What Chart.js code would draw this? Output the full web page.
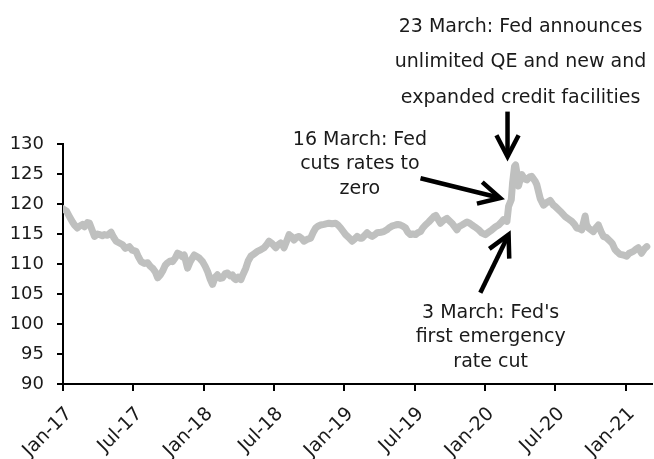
<!DOCTYPE html>
<html>
<head>
<meta charset="utf-8">
<script src="https://cdn.jsdelivr.net/npm/chart.js@4/dist/chart.umd.min.js"></script>
<style>
  html, body { margin: 0; padding: 0; background: #fff; }
</style>
</head>
<body>
<canvas id="dollar-chart" width="654" height="459"></canvas>
<script>
// months since Jan 2017 and index level
var months = [
  0,0.30,0.55,0.81,0.98,1.23,1.40,1.66,1.83,2.09,
  2.26,2.51,2.68,2.94,3.11,3.36,3.53,3.79,4.10,4.30,
  4.53,4.81,5.09,5.32,5.66,5.91,6.23,6.43,6.66,6.94,
  7.22,7.45,7.64,7.87,8.07,8.30,8.49,8.72,8.92,9.15,
  9.34,9.57,9.77,10.00,10.17,10.34,10.62,10.85,11.19,11.45,
  11.62,11.90,12.13,12.32,12.55,12.75,12.98,13.17,13.40,13.60,
  13.83,14.03,14.26,14.45,14.60,14.74,14.94,15.17,15.36,15.59,
  15.79,16.02,16.30,16.58,16.89,17.15,17.40,17.57,17.83,18.14,
  18.34,18.57,18.77,18.85,19.11,19.28,19.53,19.70,19.96,20.13,
  20.38,20.55,20.81,21.12,21.32,21.55,21.74,21.97,22.26,22.68,
  22.94,23.25,23.45,23.68,23.87,24.10,24.38,24.66,24.89,25.09,
  25.32,25.51,25.74,25.94,26.17,26.37,26.60,26.79,27.11,27.36,
  27.62,27.79,28.04,28.36,28.55,28.78,28.98,29.21,29.40,29.63,
  29.83,30.06,30.26,30.49,30.68,30.91,31.19,31.62,31.79,32.19,
  32.47,32.75,33.17,33.60,33.74,34.03,34.45,34.68,34.88,35.11,
  35.45,35.70,36.02,36.30,36.58,36.89,37.15,37.40,37.57,37.86,
  38.00,38.23,38.34,38.51,38.60,38.71,38.85,38.98,39.13,39.36,
  39.56,39.79,39.98,40.27,40.41,40.70,40.98,41.23,41.55,41.83,
  41.97,42.40,42.83,43.11,43.39,43.62,43.81,44.04,44.24,44.38,
  44.53,44.64,44.81,45.23,45.40,45.66,45.91,46.09,46.34,46.66,
  46.85,47.08,47.28,47.51,47.79,48.07,48.30,48.64,48.89,49.06,
  49.34,49.57,49.79
];
var dollarIndex = [
  119.2,118.8,117.9,117.0,116.5,116.0,116.3,116.6,116.2,116.9,
  116.8,115.5,114.6,115.0,114.9,114.7,114.9,114.8,115.3,114.5,
  113.8,113.5,113.2,112.6,112.9,112.3,112.1,111.2,110.4,110.1,
  110.2,109.6,109.3,108.7,107.7,108.2,108.8,109.8,110.2,110.5,
  110.4,111.0,111.8,111.6,111.2,111.5,109.3,110.4,111.5,111.2,
  111.0,110.4,109.6,108.8,107.5,106.6,107.8,108.2,107.6,107.7,
  108.4,108.5,108.0,108.2,107.6,107.4,107.8,107.4,108.3,109.3,
  110.5,111.3,111.7,112.1,112.4,112.7,113.3,113.8,113.4,112.7,
  113.2,113.5,113.0,112.7,114.0,114.9,114.5,114.0,114.5,114.6,
  114.2,113.8,114.1,114.3,115.2,116.0,116.3,116.5,116.6,116.8,
  116.7,116.8,116.5,116.0,115.5,114.9,114.4,113.8,114.2,114.6,
  114.3,114.3,114.8,115.2,114.8,114.6,114.9,115.2,115.3,115.4,
  115.7,116.0,116.3,116.5,116.6,116.5,116.3,116.0,115.3,114.9,
  115.0,114.9,115.2,115.4,116.0,116.5,117.0,117.9,118.1,116.8,
  117.3,117.6,116.8,115.7,116.2,116.5,117.0,116.8,116.5,116.2,
  115.7,115.2,114.9,115.3,115.7,116.2,116.5,117.0,117.4,117.1,
  119.6,120.7,123.5,126.3,126.5,125.2,123.0,124.0,124.9,124.2,
  124.0,124.5,124.6,123.8,123.2,120.9,119.8,120.2,120.6,119.8,
  119.6,118.8,117.9,117.5,117.1,116.6,116.0,115.9,115.7,116.8,
  118.0,116.6,116.0,115.4,115.9,116.5,115.3,114.6,114.4,113.8,
  113.4,112.4,112.0,111.6,111.5,111.3,111.8,112.1,112.5,112.7,
  111.8,112.5,112.9
];
var tickMonths = [0, 6, 12, 18, 24, 30, 36, 42, 48];
var tickLabels = ["Jan-17", "Jul-17", "Jan-18", "Jul-18", "Jan-19", "Jul-19", "Jan-20", "Jul-20", "Jan-21"];

// notes: x in months, y in index units (first baseline), line height in px
var notes = [
  { month: 39.02, value: 148.7, lineHeight: 35.5,
    lines: ["23 March: Fed announces", "unlimited QE and new and", "expanded credit facilities"] },
  { month: 25.32, value: 129.9, lineHeight: 24.5,
    lines: ["16 March: Fed", "cuts rates to", "zero"] },
  { month: 36.47, value: 101.05, lineHeight: 24.5,
    lines: ["3 March: Fed's", "first emergency", "rate cut"] }
];
var arrows = [
  { from: [37.91, 135.4], to: [37.91, 127.9] },
  { from: [30.49, 124.3], to: [37.29, 121.0] },
  { from: [35.59, 105.2], to: [38.0, 114.9] }
];

var points = [];
for (let i = 0; i < months.length; i++) {
    points.push({ x: months[i], y: dollarIndex[i] });
}

var fontFamily = "'DejaVu Sans', sans-serif";
Chart.defaults.font.family = fontFamily;
Chart.defaults.color = "#1a1a1a";

var notesPlugin = {
    id: "notes",
    afterDraw: function(chart) {
        var ctx = chart.ctx;
        var xs = chart.scales.x, ys = chart.scales.y;
        ctx.save();
        ctx.fillStyle = "#1a1a1a";
        ctx.font = "19px " + fontFamily;
        ctx.textAlign = "center";
        ctx.textBaseline = "alphabetic";
        notes.forEach(function(n) {
            var px = xs.getPixelForValue(n.month);
            var py = ys.getPixelForValue(n.value);
            n.lines.forEach(function(t, i) { ctx.fillText(t, px, py + i * n.lineHeight); });
        });
        ctx.strokeStyle = "#000";
        ctx.lineWidth = 4.5;
        ctx.lineJoin = "miter";
        arrows.forEach(function(a) {
            var x0 = xs.getPixelForValue(a.from[0]), y0 = ys.getPixelForValue(a.from[1]);
            var x1 = xs.getPixelForValue(a.to[0]), y1 = ys.getPixelForValue(a.to[1]);
            var ang = Math.atan2(y1 - y0, x1 - x0);
            ctx.beginPath();
            ctx.moveTo(x0, y0);
            ctx.lineTo(x1 - 2 * Math.cos(ang), y1 - 2 * Math.sin(ang));
            ctx.stroke();
            ctx.beginPath();
            ctx.moveTo(x1 - 24 * Math.cos(ang - 0.48), y1 - 24 * Math.sin(ang - 0.48));
            ctx.lineTo(x1, y1);
            ctx.lineTo(x1 - 24 * Math.cos(ang + 0.48), y1 - 24 * Math.sin(ang + 0.48));
            ctx.stroke();
        });
        ctx.restore();
    }
};

var ctx = document.getElementById("dollar-chart").getContext("2d");
var myChart = new Chart(ctx, {
    type: "line",
    data: {
        datasets: [{
            label: "Dollar index",
            data: points,
            borderColor: "#bfc0bf",
            borderWidth: 7,
            borderJoinStyle: "round",
            borderCapStyle: "round",
            pointRadius: 0,
            tension: 0,
            fill: false
        }]
    },
    options: {
        responsive: false,
        animation: false,
        layout: { padding: { top: 144, left: 10, right: 1, bottom: 0 } },
        plugins: { legend: { display: false }, tooltip: { enabled: false } },
        scales: {
            x: {
                type: "linear",
                min: 0,
                max: 50.2,
                afterBuildTicks: function(axis) {
                    axis.ticks = tickMonths.map(function(v) { return { value: v }; });
                },
                afterFit: function(axis) { axis.height = 75; },
                ticks: {
                    autoSkip: false,
                    minRotation: 45,
                    maxRotation: 45,
                    padding: 12,
                    labelOffset: 6,
                    font: { size: 19 },
                    color: "#1a1a1a",
                    callback: function(value, index) { return tickLabels[index]; }
                },
                grid: { drawOnChartArea: false, drawTicks: true, tickLength: 7, color: "#000", lineWidth: 2 },
                border: { color: "#000", width: 2 }
            },
            y: {
                min: 90,
                max: 130,
                afterFit: function(axis) { axis.width = 53; },
                ticks: { stepSize: 5, padding: 13, font: { size: 18 }, color: "#1a1a1a" },
                grid: { drawOnChartArea: false, drawTicks: true, tickLength: 6, color: "#000", lineWidth: 2 },
                border: { color: "#000", width: 2 }
            }
        }
    },
    plugins: [notesPlugin]
});
</script>
</body>
</html>
